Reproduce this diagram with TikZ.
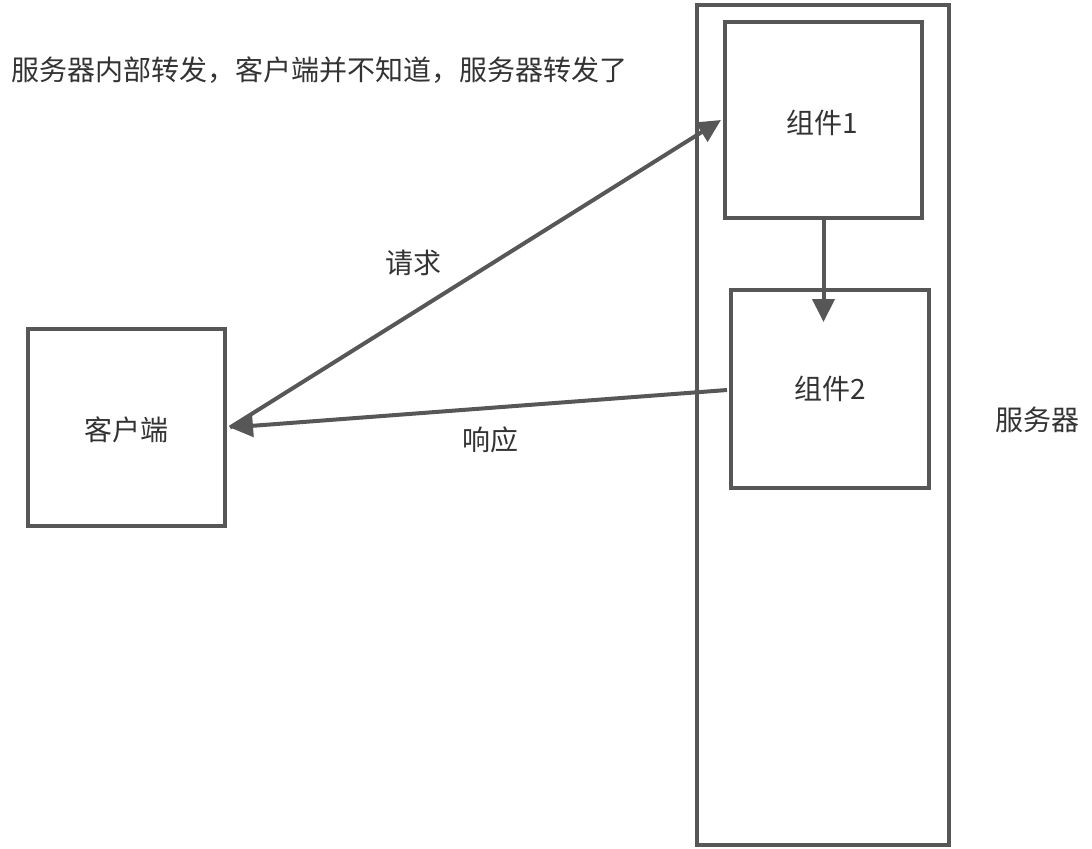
\documentclass[tikz,border=0pt]{standalone}
\usepackage{fontspec}
\setmainfont{Noto Sans CJK SC}
\usetikzlibrary{arrows.meta,calc}
\definecolor{linec}{HTML}{575757}
\definecolor{textc}{HTML}{333333}
\begin{document}
\begin{tikzpicture}[x=0.5pt,y=-0.5pt,
  box/.style={draw=linec,line width=2pt,inner sep=0pt,font=\fontsize{14pt}{17pt}\selectfont,text=textc},
  lbl/.style={inner sep=0pt,font=\fontsize{14pt}{17pt}\selectfont,text=textc},
  conn/.style={draw=linec,line width=2pt,-{Triangle[length=11.5pt,width=11pt]}}]
\useasboundingbox (0,0) rectangle (1092,848);
\node[box,minimum width=126pt,minimum height=420pt] (server) at (823,424.5) {};
\node[box,minimum width=98.5pt,minimum height=98pt] (comp1) at (823.5,120) {};
\node[lbl] (c1lbl) at (822,123) {组件1};
\node[box,minimum width=99pt,minimum height=99pt] (comp2) at (830,389) {};
\node[lbl] (c2lbl) at (830,389) {组件2};
\node[box,minimum width=98.5pt,minimum height=98.5pt] (client) at (126.5,427.5) {};
\node[lbl] (cllbl) at (126,430) {客户端};
\node[lbl] (servlbl) at (1037,420) {服务器};
\node[lbl,anchor=west] (note) at (11,70) {服务器内部转发，客户端并不知道，服务器转发了};
\node[lbl] (req) at (413,263) {请求};
\node[lbl] (resp) at (490,440) {响应};
\coordinate (cl) at ($(client.east)+(3,0)$);
\coordinate (c1tip) at ($(comp1.west)+(-2,0)$);
\coordinate (c2tip) at ($(comp1.south)+(0,102)$);
\draw[conn] (cl) -- (c1tip);
\draw[conn] ($(comp2.west)+(-2,1)$) -- (cl);
\draw[conn] (comp1.south) -- (c2tip);
\end{tikzpicture}
\end{document}
